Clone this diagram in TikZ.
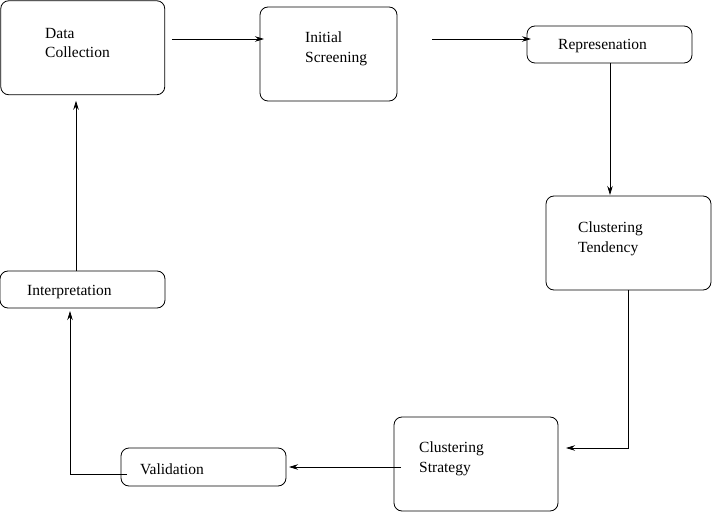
\documentclass[tikz,border=0pt]{standalone}
\usepackage{fontspec}
\setmainfont{Liberation Serif}
\newfontfamily\stagefont{Liberation Serif}
\usetikzlibrary{arrows.meta}
\usetikzlibrary{positioning}
\tikzstyle{stage}=[draw, rounded corners=8pt, inner sep=0pt, outer sep=0pt, line width=0.8pt]
\tikzstyle{txt}=[anchor=west, align=left, inner sep=0pt, font=\stagefont\fontsize{15.5}{19.5}\selectfont]
\tikzstyle{flow}=[-{Stealth[length=9pt, width=5.5pt]}, line width=0.8pt]

\begin{document}
\begin{tikzpicture}[x=1pt, y=-1pt]
    \useasboundingbox (0, 0) rectangle (712, 513) ;
    % boxes
    \node[stage, minimum width=164pt, minimum height=94pt] (datacol) at (82.75, 47.75) {} ;
    \node[stage, minimum width=137pt, minimum height=94pt] (screen) at (328.5, 54) {} ;
    \node[stage, minimum width=165pt, minimum height=37pt] (repr) at (609.5, 44.5) {} ;
    \node[stage, minimum width=165pt, minimum height=94pt] (tend) at (628.5, 243) {} ;
    \node[stage, minimum width=164pt, minimum height=94pt] (strat) at (476, 464) {} ;
    \node[stage, minimum width=165pt, minimum height=38pt] (valid) at (203.5, 467) {} ;
    \node[stage, minimum width=165pt, minimum height=37pt] (interp) at (82.5, 289.5) {} ;
    % labels
    \node[txt] (datacoltxt) at (45, 43) {Data\\Collection} ;
    \node[txt] (screentxt) at (305, 49) {Initial\\Screening} ;
    \node[txt] (reprtxt) at (558, 46) {Represenation} ;
    \node[txt] (tendtxt) at (578, 239) {Clustering\\Tendency} ;
    \node[txt] (strattxt) at (419, 459) {Clustering\\Strategy} ;
    \node[txt] (validtxt) at (140, 469) {Validation} ;
    \node[txt] (interptxt) at (27, 292) {Interpretation} ;
    % connectors
    \draw[flow] ([xshift=7pt, yshift=8.75pt]datacol.east) -- ([xshift=4pt, yshift=15pt]screen.west) ;
    \draw[flow] ([xshift=35pt, yshift=15pt]screen.east) -- ([xshift=4pt, yshift=5.5pt]repr.west) ;
    \draw[flow] ([xshift=0.5pt]repr.south) -- ([xshift=-18.5pt, yshift=1pt]tend.north) ;
    \draw[flow] (tend.south) |- ([xshift=8pt, yshift=16pt]strat.east) ;
    \draw[flow] ([xshift=7pt, yshift=-3pt]strat.west) -- ([xshift=3pt]valid.east) ;
    \draw[flow] ([xshift=6pt, yshift=-7pt]valid.west) -| ([xshift=-12.5pt, yshift=-3pt]interp.south) ;
    \draw[flow] ([xshift=-6.5pt]interp.north) -- ([xshift=-6.75pt, yshift=-6pt]datacol.south) ;
\end{tikzpicture}
\end{document}
